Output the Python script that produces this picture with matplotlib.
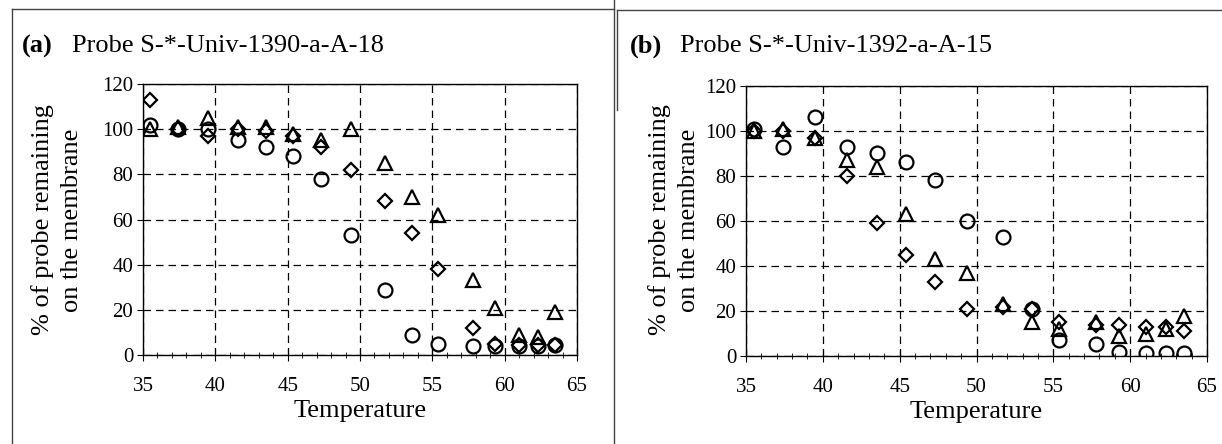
import numpy as np
import matplotlib
matplotlib.use("Agg")
import matplotlib.pyplot as plt
from matplotlib.lines import Line2D
from matplotlib.ticker import MultipleLocator

plt.rcParams['font.family'] = ['Liberation Serif', 'DejaVu Serif']

# temperatures (same for both probes)
temp = [35.5, 37.4, 39.5, 41.6, 43.5, 45.4, 47.3, 49.4, 51.7, 53.6,
        55.4, 57.8, 59.3, 61.0, 62.3, 63.5]

# (a) Probe S-*-Univ-1390-a-A-18
a_circle = [102, 100, 100, 95, 92, 88, 78, 53, 29, 9, 5, 4, 4, 4, 4, 4.5]
a_diamond = [113, 100, 97, 100, 99, 97, 92, 82, 68, 54, 38, 12, 5, 4.5, 4.5, 4.5]
a_triangle = [100, 101, 105, 101, 101, 98, 95, 100, 85, 70, 62, 33, 21, 9, 8, 19]

# (b) Probe S-*-Univ-1392-a-A-15
b_circle = [101, 93, 106, 93, 90, 86, 78, 60, 53, 21, 7, 5.5, 2, 1.5, 1.5, 1.5]
b_diamond = [100, 100, 97, 80, 59, 45, 33, 21, 22, 21, 15, 14, 14, 13, 13, 11]
b_triangle = [100, 101, 97, 87, 84, 63, 43, 37, 23, 15, 12, 15, 9, 10, 12, 18]

titles = ['Probe S-*-Univ-1390-a-A-18', 'Probe S-*-Univ-1392-a-A-15']
tags = ['(a)', '(b)']

fig = plt.figure(figsize=(12.22, 4.44), dpi=100)
W, H = 1222, 444

def px_axes(x0, x1, y0, y1):
    return fig.add_axes([x0 / W, 1 - y1 / H, (x1 - x0) / W, (y1 - y0) / H])

ax1 = px_axes(143, 577, 84, 355)
ax2 = px_axes(746, 1207, 86, 356)

mk = dict(linestyle='none', mfc='none', mec='black', mew=1.6)
for ax, c, d, t in [(ax1, a_circle, a_diamond, a_triangle),
                    (ax2, b_circle, b_diamond, b_triangle)]:
    ax.plot(temp, d, marker='D', ms=7, **mk)
    ax.plot(temp, t, marker='^', ms=10, **mk)
    ax.plot(temp, c, marker='o', ms=10, **mk)
    ax.set_xlim(35, 65)
    ax.set_ylim(0, 120)
    ax.xaxis.set_major_locator(MultipleLocator(5))
    ax.xaxis.set_minor_locator(MultipleLocator(1))
    ax.yaxis.set_major_locator(MultipleLocator(20))
    ax.grid(True, which='major', color='black', linestyle=(0, (6, 4)), linewidth=0.9)
    ax.tick_params(axis='x', which='both', direction='inout', labelsize=15, pad=12)
    ax.tick_params(axis='x', which='major', length=8)
    ax.tick_params(axis='x', which='minor', length=4)
    ax.tick_params(axis='y', direction='out', length=4, labelsize=15, pad=3)
    for s in ax.spines.values():
        s.set_linewidth(1.0)
    ax.set_xlabel('Temperature', fontsize=19, labelpad=3)
    ax.set_axisbelow(True)

# y labels (two lines)
for xc in (57, 674):
    fig.text(xc / W, 1 - 220 / H, '% of probe remaining\non the membrane',
             rotation=90, ha='center', va='center', fontsize=19, linespacing=1.4)

# panel titles
for x0, tag, title in [(22, tags[0], titles[0]), (630, tags[1], titles[1])]:
    fig.text(x0 / W, 1 - 46 / H, tag, fontsize=19, fontweight='bold',
             ha='left', va='center')
    fig.text((x0 + 50) / W, 1 - 46 / H, title, fontsize=19,
             ha='left', va='center')

# outer frame lines
fc = '#444444'
lines = [((12, 12), (9, 444)), ((12, 614), (9, 9)), ((614, 614), (0, 444)),
         ((617, 1222), (10, 10)), ((617, 617), (10, 110))]
for xs, ys in lines:
    fig.add_artist(Line2D([x / W for x in xs], [1 - y / H for y in ys],
                          color=fc, linewidth=1.0))

plt.savefig('out.png', dpi=100)
